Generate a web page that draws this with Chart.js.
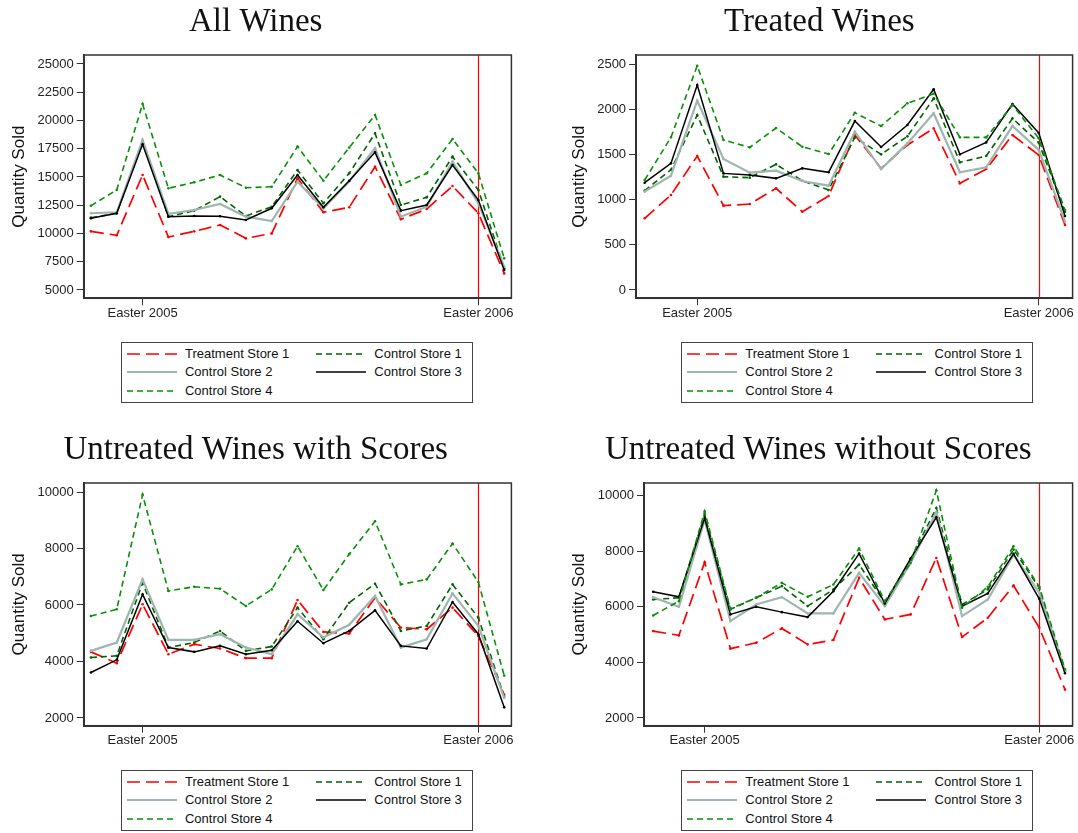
<!DOCTYPE html>
<html>
<head>
<meta charset="utf-8">
<script src="https://cdn.jsdelivr.net/npm/chart.js@4.4.1/dist/chart.umd.min.js"></script>
<style>
  body { margin: 0; background: #fff; width: 1078px; height: 833px; position: relative; overflow: hidden;
         font-family: 'Liberation Sans', Arial, sans-serif; }
  canvas { position: absolute; }
  .legend { position: absolute; border: 1px solid #444; box-sizing: border-box; width: 352px; height: 61px; background: #fff; }
  .legend svg { position: absolute; }
  .legend span { position: absolute; font-size: 13px; line-height: 16px; color: #111; white-space: nowrap; }
</style>
</head>
<body>
<canvas id="c-all" width="520" height="330" style="left:0;top:0"></canvas>
<canvas id="c-treated" width="512" height="330" style="left:566px;top:0"></canvas>
<canvas id="c-scored" width="522" height="330" style="left:0;top:428.3px"></canvas>
<canvas id="c-unscored" width="514" height="330" style="left:564px;top:428.3px"></canvas>

<script>
// periods (4-week blocks), Easter 2005 at 2, Easter 2006 at 15
const periods = [0, 1, 2, 3, 4, 5, 6, 7, 8, 9, 10, 11, 12, 13, 14, 15, 16];
const tickPeriods = [2, 15];
const tickNames = ['Easter 2005', 'Easter 2006'];
const easterLine = 15;

const storeNames = ['Treatment Store 1', 'Control Store 1', 'Control Store 2', 'Control Store 3', 'Control Store 4'];

// All Wines
const allT1 = [10190, 9840, 15180, 9690, 10190, 10750, 9570, 10010, 14890, 11880, 12320, 15910, 11260, 12170, 14200, 11790, 6470];
const allC1 = [11400, 11790, 18100, 11490, 12020, 13260, 11550, 12370, 15620, 12670, 15330, 18860, 12520, 13200, 16800, 13850, 6920];
const allC2 = [11790, 11880, 18270, 11730, 12080, 12610, 11490, 11100, 14580, 12230, 14600, 17540, 11490, 12370, 16360, 12670, 7060];
const allC3 = [11340, 11790, 17890, 11490, 11550, 11520, 11190, 12230, 15180, 12320, 14670, 17180, 12020, 12520, 16060, 12960, 6770];
const allC4 = [12460, 13850, 21460, 14000, 14530, 15180, 14050, 14140, 17690, 14670, 17600, 20490, 14290, 15330, 18360, 15330, 7800];
const allTicks = [5000, 7500, 10000, 12500, 15000, 17500, 20000, 22500, 25000];

// Treated Wines
const trtT1 = [793, 1051, 1482, 933, 951, 1125, 866, 1040, 1714, 1346, 1604, 1788, 1180, 1338, 1714, 1493, 719];
const trtC1 = [1100, 1330, 1936, 1254, 1243, 1390, 1209, 1106, 1689, 1501, 1700, 2120, 1412, 1482, 1899, 1630, 866];
const trtC2 = [1088, 1265, 2094, 1449, 1298, 1320, 1206, 1154, 1751, 1338, 1622, 1954, 1302, 1357, 1814, 1549, 756];
const trtC3 = [1187, 1401, 2268, 1290, 1272, 1235, 1346, 1302, 1869, 1582, 1825, 2220, 1501, 1633, 2057, 1737, 819];
const trtC4 = [1217, 1689, 2481, 1659, 1578, 1792, 1585, 1504, 1961, 1814, 2065, 2170, 1689, 1689, 2046, 1678, 885];
const trtTicks = [0, 500, 1000, 1500, 2000, 2500];

// Untreated Wines with Scores
const scT1 = [4341, 3941, 6024, 4259, 4612, 4459, 4118, 4118, 6176, 5047, 4988, 6259, 5200, 5141, 5906, 4906, 2824];
const scC1 = [4141, 4200, 6788, 4494, 4671, 5082, 4376, 4529, 5906, 4788, 6082, 6753, 5082, 5259, 6729, 5553, 2750];
const scC2 = [4376, 4671, 6906, 4765, 4765, 4965, 4494, 4259, 5671, 4850, 5300, 6318, 4494, 4788, 6412, 5259, 2710];
const scC3 = [3612, 4059, 6376, 4494, 4341, 4553, 4259, 4400, 5424, 4647, 5082, 5812, 4553, 4459, 6106, 4965, 2376];
const scC4 = [5612, 5847, 9906, 6494, 6647, 6576, 5965, 6553, 8082, 6529, 7800, 8965, 6729, 6906, 8176, 6812, 3500];
const scTicks = [2000, 4000, 6000, 8000, 10000];

// Untreated Wines without Scores
const nsT1 = [5124, 4969, 7598, 4491, 4706, 5220, 4646, 4802, 7036, 5543, 5722, 7753, 4909, 5602, 6761, 5244, 3020];
const nsC1 = [6260, 6320, 9307, 5901, 6320, 6738, 6021, 6618, 7514, 6140, 7694, 9546, 6080, 6618, 8052, 6678, 3690];
const nsC2 = [6343, 5997, 9128, 5483, 6080, 6343, 5758, 5758, 7216, 6021, 7574, 9391, 5662, 6260, 7873, 6499, 3690];
const nsC3 = [6535, 6355, 9187, 5722, 5997, 5805, 5626, 6558, 7909, 6116, 7729, 9211, 6021, 6475, 7897, 6284, 3607];
const nsC4 = [5686, 6200, 9426, 5925, 6320, 6857, 6355, 6797, 8088, 6200, 7574, 10180, 5961, 6714, 8172, 6714, 3750];
const nsTicks = [2000, 4000, 6000, 8000, 10000];

const styles = [
  { color: '#ff0000', width: 1.7, dash: [13, 6] },
  { color: '#006400', width: 1.6, dash: [6, 4] },
  { color: '#9fb5af', width: 2.2, dash: [] },
  { color: '#000000', width: 1.5, dash: [] },
  { color: '#0a8f0a', width: 1.6, dash: [6, 4] }
];

const panels = [
  { id: 'c-all', title: 'All Wines', series: [allT1, allC1, allC2, allC3, allC4], yTicks: allTicks,
    yMin: 4265, yMax: 25796, xMin: -0.279, xMax: 16.279, yWidth: 83.7, padRight: 8.6, yTitlePad: 8.8, xHeight: 31.7,
    legend: [120.7, 341.7] },
  { id: 'c-treated', title: 'Treated Wines', series: [trtT1, trtC1, trtC2, trtC3, trtC4], yTicks: trtTicks,
    yMin: -92, yMax: 2600, xMin: -0.327, xMax: 16.289, yWidth: 70.1, padRight: 5.4, yTitlePad: 3.3, xHeight: 31.7,
    legend: [681, 341.7] },
  { id: 'c-scored', title: 'Untreated Wines with Scores', series: [scT1, scC1, scC2, scC3, scC4], yTicks: scTicks,
    yMin: 1727, yMax: 10319, xMin: -0.279, xMax: 16.279, yWidth: 83.7, padRight: 10.6, yTitlePad: 8.8, xHeight: 32.3,
    legend: [120.7, 769.7] },
  { id: 'c-unscored', title: 'Untreated Wines without Scores', series: [nsT1, nsC1, nsC2, nsC3, nsC4], yTicks: nsTicks,
    yMin: 1723, yMax: 10446, xMin: -0.357, xMax: 16.295, yWidth: 80, padRight: 5.4, yTitlePad: 5.3, xHeight: 32.3,
    legend: [681, 769.7] }
];

const framePlugin = {
  id: 'frame',
  beforeDatasetsDraw(chart) {
    const { ctx, chartArea: a, scales } = chart;
    const x = Math.round(scales.x.getPixelForValue(easterLine)) + 0.5;
    ctx.save();
    ctx.strokeStyle = '#ff0000';
    ctx.lineWidth = 1.2;
    ctx.beginPath();
    ctx.moveTo(x, a.top);
    ctx.lineTo(x, a.bottom);
    ctx.stroke();
    ctx.restore();
  },
  afterDraw(chart) {
    const { ctx, chartArea: a } = chart;
    ctx.save();
    ctx.strokeStyle = '#333';
    ctx.lineWidth = 1.5;
    ctx.strokeRect(a.left, a.top, a.right - a.left, a.bottom - a.top);
    ctx.restore();
  }
};

Chart.defaults.font.family = "'Liberation Sans', Arial, sans-serif";

function makeChart(p) {
  const ctx = document.getElementById(p.id).getContext('2d');
  new Chart(ctx, {
    type: 'line',
    data: {
      datasets: storeNames.map((name, k) => ({
        label: name,
        data: p.series[k].map((v, i) => ({ x: periods[i], y: v })),
        borderColor: styles[k].color,
        backgroundColor: styles[k].color,
        borderWidth: styles[k].width,
        borderDash: styles[k].dash,
        pointRadius: 1.3,
        pointBorderWidth: 0,
        tension: 0,
        fill: false,
        order: 5 - k
      }))
    },
    options: {
      responsive: false,
      animation: false,
      layout: { padding: { top: 0, left: 0, right: p.padRight, bottom: 0 } },
      plugins: {
        legend: { display: false },
        tooltip: { enabled: false },
        title: {
          display: true, text: p.title, color: '#111',
          font: { family: "'Liberation Serif', 'Times New Roman', serif", size: 33, weight: 'normal', lineHeight: 1.2 },
          padding: { top: 3, bottom: 12.4 }
        }
      },
      scales: {
        x: {
          type: 'linear', min: p.xMin, max: p.xMax,
          afterBuildTicks: s => { s.ticks = tickPeriods.map(v => ({ value: v })); },
          afterFit: s => { s.height = p.xHeight; },
          ticks: {
            callback: v => tickNames[tickPeriods.indexOf(v)],
            font: { size: 13 }, color: '#222', padding: 0, maxRotation: 0, autoSkip: false
          },
          grid: { drawOnChartArea: false, tickLength: 7, color: '#333', lineWidth: 1 },
          border: { color: '#333', width: 2 }
        },
        y: {
          min: p.yMin, max: p.yMax,
          afterBuildTicks: s => { s.ticks = p.yTicks.map(v => ({ value: v })); },
          afterFit: s => { s.width = p.yWidth; },
          ticks: { callback: v => String(v), font: { size: 13 }, color: '#222', padding: 3 },
          grid: { drawOnChartArea: false, tickLength: 7, color: '#333', lineWidth: 1 },
          border: { color: '#333', width: 2 },
          title: {
            display: true, text: 'Quantity Sold', color: '#111',
            font: { size: 17 }, padding: { top: p.yTitlePad, bottom: 0 }
          }
        }
      }
    },
    plugins: [framePlugin]
  });

  // legend box
  const box = document.createElement('div');
  box.className = 'legend';
  box.style.left = p.legend[0] + 'px';
  box.style.top = p.legend[1] + 'px';
  storeNames.forEach((name, k) => {
    const col = k % 2, row = Math.floor(k / 2);
    const rowY = 12.3 + row * 18.5;
    const sx = col === 0 ? 5 : 194.3;
    const tx = col === 0 ? 63.3 : 252.6;
    const st = styles[k];
    const svg = `<svg width="50" height="6" style="left:${sx}px;top:${rowY - 4}px">
      <line x1="0" y1="3" x2="50" y2="3" stroke="${st.color}" stroke-width="${st.width}"
        stroke-dasharray="${st.dash.length ? st.dash.join(' ') : 'none'}"/></svg>`;
    box.insertAdjacentHTML('beforeend', svg);
    const span = document.createElement('span');
    span.textContent = name;
    span.style.left = tx + 'px';
    span.style.top = (rowY - 9) + 'px';
    box.appendChild(span);
  });
  document.body.appendChild(box);
}

panels.forEach(makeChart);
</script>
</body>
</html>
